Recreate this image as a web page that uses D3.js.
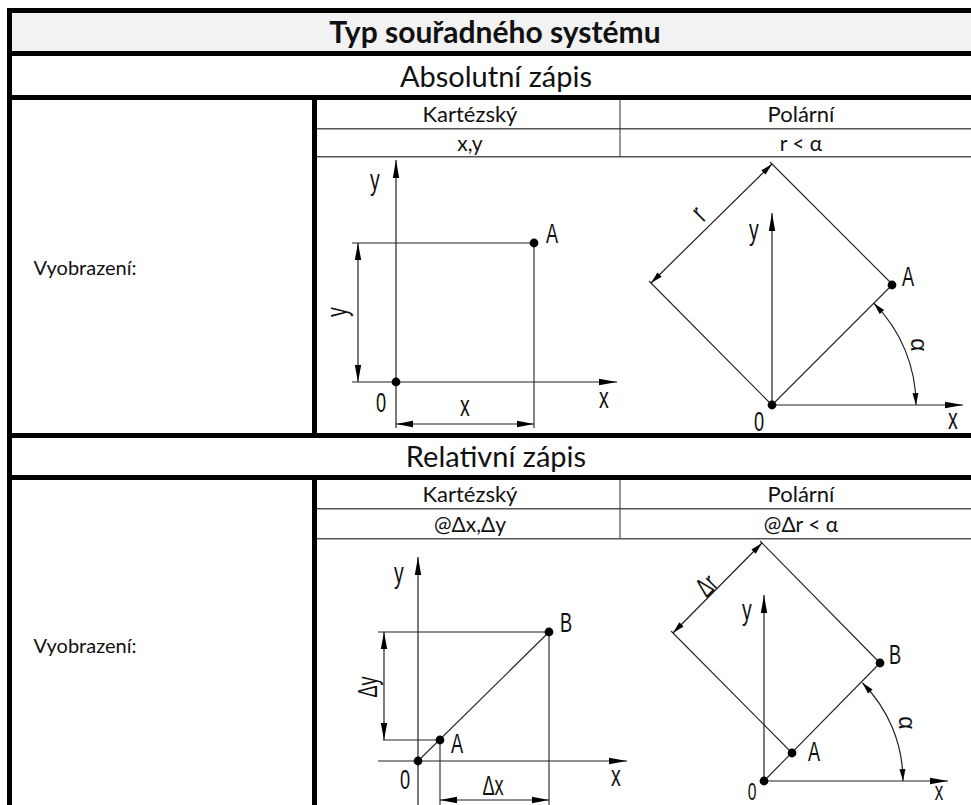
<!DOCTYPE html>
<html>
<head>
<meta charset="utf-8">
<script src="https://cdn.jsdelivr.net/npm/d3@7"></script>
<style>
  html, body { margin: 0; padding: 0; background: #fff; overflow: hidden; }
  svg { display: block; }
</style>
</head>
<body>
<div id="chart"></div>
<script>
// Table texts
const titleText = 'Typ souřadného systému';
const sectionTexts = ['Absolutní zápis', 'Relativní zápis'];
const rowLabel = 'Vyobrazení:';
const columnNames = ['Kartézský', 'Polární'];
const absoluteNotation = ['x,y', 'r < α'];
const relativeNotation = ['@Δx,Δy', '@Δr < α'];

// Diagram values, in drawing units measured from the origin 0 (y goes up)
const absCartAxes = [[[0, -46], [0, 222]], [[-44, 0], [221, 0]]];
const absCartGuides = [[[-44, 139], [138, 139]], [[138, 139], [138, -46]]];
const absCartDims = [[[-38, 139], [-38, 0]], [[0, -42], [138, -42]]];
const absCartPoints = [[0, 0], [138, 139]];
const absCartLabels = [['y', -21, 197], ['A', 156, 149], ['y', -54, 70, -90], ['0', -15, -20], ['x', 69, -26], ['x', 208, -18]];

const absPolarAxes = [[[0, 0], [0, 192]], [[0, 0], [191, 0]]];
const absPolarGuides = [[[0, 0], [120, 120]], [[122, 119], [-2, 243]], [[-123, 124], [0, 0]]];
const absPolarDims = [[[0, 241], [-121, 122]]];
const absPolarArc = [144, 45, 90];
const absPolarPoints = [[0, 0], [120, 120]];
const absPolarLabels = [['r', -72, 190, -45], ['y', -18, 170], ['A', 136, 129], ['α', 145, 60, 90], ['0', -13, -16], ['x', 181, -16]];

const relCartAxes = [[[0, 44], [0, 204]], [[0, 44], [0, -44]], [[-40, 0], [209, 0]]];
const relCartGuides = [[[-40, 129], [131, 129]], [[131, 129], [131, -44]], [[-35, 21], [22, 21]], [[22, 21], [22, -44]], [[0, 0], [131, 129]]];
const relCartDims = [[[-34, 129], [-34, 21]], [[22, -39], [131, -39]]];
const relCartPoints = [[0, 0], [22, 21], [131, 129]];
const relCartLabels = [['y', -19, 183], ['B', 148, 139], ['A', 39, 18], ['Δy', -51, 74, -90], ['0', -13, -18], ['Δx', 75, -24], ['x', 198, -17]];

const relPolarAxes = [[[0, 0], [0, 186]], [[0, 0], [184, 0]]];
const relPolarGuides = [[[0, 0], [116, 118]], [[116, 118], [-4, 240]], [[28, 28], [-93, 150]]];
const relPolarDims = [[[-2, 238], [-91, 148]]];
const relPolarArc = [139, 45, 90];
const relPolarPoints = [[0, 0], [28, 28], [116, 118]];
// the last two labels touch the bottom edge of the picture, so they are a little smaller
const relPolarLabels = [['Δr', -58, 196, -45], ['y', -17, 166], ['B', 131, 127], ['A', 50, 30], ['α', 141, 58, 90], ['0', -12, -10, 0, 24], ['x', 175, -12, 0, 26]];

const WIDTH = 971;
const HEIGHT = 805;
const TABLE_FONT = 'Lato, "Open Sans", sans-serif';
const DRAWING_FONT = '"Liberation Sans", sans-serif';
const LINE_COLOR = '#222';
// the drawing lettering is a narrow technical face, so squeeze the installed one
const DRAWING_SQUEEZE = 0.65;

const svg = d3.select('#chart').append('svg')
    .attr('width', WIDTH)
    .attr('height', HEIGHT)
    .attr('viewBox', `0 0 ${WIDTH} ${HEIGHT}`);

svg.append('rect').attr('width', WIDTH).attr('height', HEIGHT).attr('fill', '#fff');

// ---- table frame ----
const frame = svg.append('g');

function block(x, y, w, h, fill) {
    frame.append('rect').attr('x', x).attr('y', y).attr('width', w).attr('height', h).attr('fill', fill);
}

block(12, 12, WIDTH - 12, 40, '#f2f2f2');

// bold rules
[8, 51, 95, 433, 475].forEach(y => block(7, y, WIDTH - 7, 5, '#000'));
block(7, 8, 5, HEIGHT - 8, '#000');
block(312, 97, 5, 338, '#000');
block(312, 477, 5, HEIGHT - 477, '#000');
// thin rules
[128, 156, 508, 538].forEach(y => block(317, y, WIDTH - 317, 1.5, '#555'));
block(619.5, 100, 1, 57, '#333');
block(619.5, 480, 1, 58, '#333');

function tableText(text, x, y, size, weight) {
    svg.append('text')
        .attr('x', x).attr('y', y)
        .attr('text-anchor', 'middle')
        .attr('font-family', TABLE_FONT)
        .attr('font-size', size)
        .attr('font-weight', weight || 400)
        .attr('fill', '#111')
        .text(text);
}

tableText(titleText, 495, 43, 30, 700);
tableText(sectionTexts[0], 496, 87, 29);
tableText(sectionTexts[1], 496, 467, 29);
tableText(columnNames[0], 470, 122, 22);
tableText(columnNames[1], 801, 122, 22);
tableText(absoluteNotation[0], 470, 151, 21);
tableText(absoluteNotation[1], 801, 151, 21);
tableText(columnNames[0], 470, 502, 22);
tableText(columnNames[1], 801, 502, 22);
tableText(relativeNotation[0], 470, 532, 21);
tableText(relativeNotation[1], 801, 532, 21);
tableText(rowLabel, 85, 275, 20);
tableText(rowLabel, 85, 653, 20);

// ---- diagrams ----
function drawDiagram(originX, originY, axes, guides, dims, arcSpec, points, labels) {
    const x = d3.scaleLinear().domain([0, 100]).range([originX, originX + 100]);
    const y = d3.scaleLinear().domain([0, 100]).range([originY, originY - 100]);
    const g = svg.append('g');
    const line = d3.line().x(d => x(d[0])).y(d => y(d[1]));

    // filled arrow with its tip at the given point, pointing along angle
    function arrow(tip, from, length, halfWidth) {
        const angle = Math.atan2(y(tip[1]) - y(from[1]), x(tip[0]) - x(from[0]));
        const tx = x(tip[0]);
        const ty = y(tip[1]);
        const bx = tx - Math.cos(angle) * length;
        const by = ty - Math.sin(angle) * length;
        const nx = -Math.sin(angle) * halfWidth;
        const ny = Math.cos(angle) * halfWidth;
        g.append('path')
            .attr('d', `M${tx},${ty}L${bx + nx},${by + ny}L${bx - nx},${by - ny}Z`)
            .attr('fill', '#000');
    }

    function segment(d, width, color) {
        g.append('path').attr('d', line(d)).attr('fill', 'none')
            .attr('stroke', color).attr('stroke-width', width);
    }

    guides.forEach(d => segment(d, 1.1, LINE_COLOR));
    axes.forEach(d => {
        segment(d, 1.2, LINE_COLOR);
    });
    // axis arrows sit on the far end of the vertical and horizontal axis
    axes.filter(d => d[1][0] > 0 || d[1][1] > 0).forEach(d => arrow(d[1], d[0], 18, 3.2));

    dims.forEach(d => {
        segment(d, 1.2, LINE_COLOR);
        const slanted = d[0][0] !== d[1][0] && d[0][1] !== d[1][1];
        arrow(d[0], d[1], slanted ? 12 : 17, slanted ? 3 : 3.2);
        arrow(d[1], d[0], slanted ? 12 : 17, slanted ? 3 : 3.2);
    });

    if (arcSpec) {
        const radius = x(arcSpec[0]) - x(0);
        const arc = d3.arc()
            .innerRadius(radius).outerRadius(radius)
            .startAngle(arcSpec[1] * Math.PI / 180)
            .endAngle(arcSpec[2] * Math.PI / 180);
        g.append('path')
            .attr('d', arc())
            .attr('transform', `translate(${x(0)},${y(0)})`)
            .attr('fill', 'none').attr('stroke', LINE_COLOR).attr('stroke-width', 1.2);
        const a0 = arcSpec[1] * Math.PI / 180;
        const a1 = arcSpec[2] * Math.PI / 180;
        const r = arcSpec[0];
        const onArc = a => [r * Math.sin(a), r * Math.cos(a)];
        arrow(onArc(a0), onArc(a0 + 0.09), 12, 3);
        arrow(onArc(a1), onArc(a1 - 0.09), 12, 3);
    }

    g.selectAll('circle').data(points).join('circle')
        .attr('cx', d => x(d[0])).attr('cy', d => y(d[1]))
        .attr('r', 4.4).attr('fill', '#000');

    labels.forEach(d => {
        const isAlpha = d[0] === 'α';
        const size = d[4] || (isAlpha ? 23 : (/^[xyr]$/.test(d[0]) ? 30 : 28));
        const squeeze = isAlpha ? 1 : DRAWING_SQUEEZE;
        // small letters have their visual middle lower than capitals
        const dy = d[0] === 'y' ? '0.16em' : (/^[xrα]$/.test(d[0]) ? '0.26em' : '0.36em');
        g.append('text')
            .attr('transform', `translate(${x(d[1])},${y(d[2])}) rotate(${d[3] || 0}) scale(${squeeze},1)`)
            .attr('dy', dy)
            .attr('text-anchor', 'middle')
            .attr('font-family', DRAWING_FONT)
            .attr('font-size', size)
            .attr('fill', '#111')
            .text(d[0]);
    });
}

drawDiagram(396, 382, absCartAxes, absCartGuides, absCartDims, null, absCartPoints, absCartLabels);
drawDiagram(772, 405, absPolarAxes, absPolarGuides, absPolarDims, absPolarArc, absPolarPoints, absPolarLabels);
drawDiagram(418, 761, relCartAxes, relCartGuides, relCartDims, null, relCartPoints, relCartLabels);
drawDiagram(764, 781, relPolarAxes, relPolarGuides, relPolarDims, relPolarArc, relPolarPoints, relPolarLabels);
</script>
</body>
</html>
